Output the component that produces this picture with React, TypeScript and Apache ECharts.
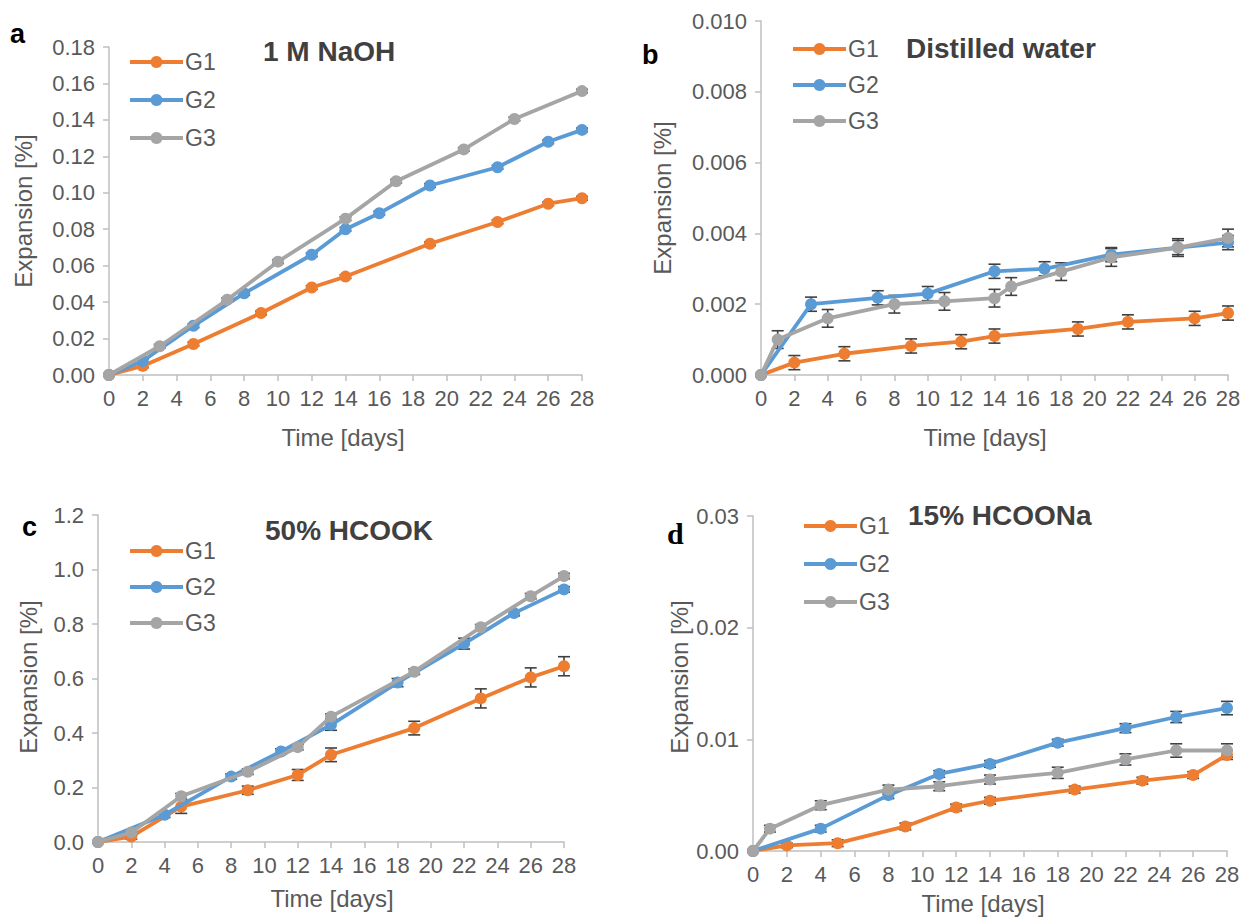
import React, { useEffect, useRef } from "react";
import * as echarts from "echarts";

// ---------- Data ----------
const seriesNames = ["G1", "G2", "G3"];
const seriesColors = ["#ED7D31", "#5B9BD5", "#A5A5A5"];

// Panel a: 1 M NaOH
const aG1x = [0, 2, 5, 9, 12, 14, 19, 23, 26, 28];
const aG1y = [0, 0.005, 0.017, 0.034, 0.048, 0.054, 0.072, 0.084, 0.094, 0.097];
const aG1e = [0, 0.001, 0.001, 0.001, 0.001, 0.001, 0.001, 0.001, 0.001, 0.001];
const aG2x = [0, 2, 5, 8, 12, 14, 16, 19, 23, 26, 28];
const aG2y = [0, 0.0077, 0.027, 0.0448, 0.066, 0.08, 0.0888, 0.104, 0.114, 0.128, 0.1345];
const aG2e = [0, 0.001, 0.001, 0.001, 0.001, 0.001, 0.001, 0.001, 0.001, 0.001, 0.001];
const aG3x = [0, 3, 7, 10, 14, 17, 21, 24, 28];
const aG3y = [0, 0.0158, 0.0413, 0.0622, 0.0858, 0.1063, 0.1238, 0.1405, 0.1558];
const aG3e = [0, 0.001, 0.001, 0.001, 0.001, 0.001, 0.001, 0.001, 0.001];

// Panel b: Distilled water
const bG1x = [0, 2, 5, 9, 12, 14, 19, 22, 26, 28];
const bG1y = [0, 0.00035, 0.0006, 0.00082, 0.00094, 0.0011, 0.0013, 0.0015, 0.0016, 0.00175];
const bG1e = [0, 0.0002, 0.0002, 0.0002, 0.0002, 0.0002, 0.0002, 0.0002, 0.0002, 0.0002];
const bG2x = [0, 3, 7, 10, 14, 17, 21, 25, 28];
const bG2y = [0, 0.002, 0.00218, 0.0023, 0.00293, 0.003, 0.0034, 0.0036, 0.00374];
const bG2e = [0, 0.0002, 0.0002, 0.0002, 0.0002, 0.0002, 0.0002, 0.0002, 0.0002];
const bG3x = [0, 1, 4, 8, 11, 14, 15, 18, 21, 25, 28];
const bG3y = [0, 0.001, 0.0016, 0.002, 0.00208, 0.00217, 0.0025, 0.00292, 0.00332, 0.0036, 0.00387];
const bG3e = [0, 0.00025, 0.00025, 0.00025, 0.00025, 0.00025, 0.00025, 0.00025, 0.00025, 0.00025, 0.00025];

// Panel c: 50% HCOOK
const cG1x = [0, 2, 5, 9, 12, 14, 19, 23, 26, 28];
const cG1y = [0, 0.02, 0.13, 0.19, 0.246, 0.32, 0.418, 0.527, 0.604, 0.645];
const cG1e = [0, 0.01, 0.025, 0.015, 0.02, 0.025, 0.025, 0.035, 0.035, 0.035];
const cG2x = [0, 4, 8, 11, 14, 18, 22, 25, 28];
const cG2y = [0, 0.1, 0.24, 0.332, 0.43, 0.585, 0.728, 0.84, 0.927];
const cG2e = [0, 0.01, 0.01, 0.01, 0.02, 0.015, 0.02, 0.01, 0.01];
const cG3x = [0, 2, 5, 9, 12, 14, 19, 23, 26, 28];
const cG3y = [0, 0.035, 0.168, 0.258, 0.348, 0.46, 0.625, 0.788, 0.902, 0.976];
const cG3e = [0, 0.01, 0.01, 0.01, 0.01, 0.01, 0.01, 0.01, 0.01, 0.01];

// Panel d: 15% HCOONa
const dG1x = [0, 2, 5, 9, 12, 14, 19, 23, 26, 28];
const dG1y = [0, 0.0005, 0.0007, 0.0022, 0.0039, 0.0045, 0.0055, 0.0063, 0.0068, 0.0086];
const dG1e = [0, 0.0002, 0.0003, 0.0003, 0.0003, 0.0003, 0.0003, 0.0003, 0.0003, 0.0004];
const dG2x = [0, 4, 8, 11, 14, 18, 22, 25, 28];
const dG2y = [0, 0.002, 0.005, 0.0069, 0.0078, 0.0097, 0.011, 0.012, 0.0128];
const dG2e = [0, 0.0003, 0.0003, 0.0003, 0.0003, 0.0003, 0.0004, 0.0005, 0.0006];
const dG3x = [0, 1, 4, 8, 11, 14, 18, 22, 25, 28];
const dG3y = [0, 0.002, 0.0041, 0.0055, 0.0058, 0.0064, 0.007, 0.0082, 0.009, 0.009];
const dG3e = [0, 0.0003, 0.0004, 0.0004, 0.0004, 0.0004, 0.0005, 0.0005, 0.0006, 0.0006];

const panelTitles = ["1 M NaOH", "Distilled water", "50% HCOOK", "15% HCOONa"];
const panelLetters = ["a", "b", "c", "d"];
const yMaxes = [0.18, 0.01, 1.2, 0.03];
const yIntervals = [0.02, 0.002, 0.2, 0.01];
const yDecimals = [2, 3, 1, 2];
const xName = "Time [days]";
const yName = "Expansion [%]";

const panelData = [
  [[aG1x, aG1y, aG1e], [aG2x, aG2y, aG2e], [aG3x, aG3y, aG3e]],
  [[bG1x, bG1y, bG1e], [bG2x, bG2y, bG2e], [bG3x, bG3y, bG3e]],
  [[cG1x, cG1y, cG1e], [cG2x, cG2y, cG2e], [cG3x, cG3y, cG3e]],
  [[dG1x, dG1y, dG1e], [dG2x, dG2y, dG2e], [dG3x, dG3y, dG3e]],
];

// ---------- Layout ----------
const grids = [
  { left: 109, top: 47, width: 473, height: 328 },
  { left: 761, top: 21, width: 467, height: 354 },
  { left: 98, top: 515, width: 466, height: 327 },
  { left: 753, top: 516, width: 474, height: 335 },
];
const legendPos = [
  { left: 128, top: 50, gap: 14 },
  { left: 791, top: 37, gap: 12 },
  { left: 128, top: 539, gap: 12 },
  { left: 802, top: 514, gap: 14 },
];
const titlePos = [
  { x: 263, y: 51 },
  { x: 906, y: 48 },
  { x: 265, y: 530 },
  { x: 908, y: 515 },
];
const letterPos = [
  { x: 10, y: 34 },
  { x: 642, y: 55 },
  { x: 22, y: 527 },
  { x: 667, y: 533 },
];
const yNamePos = [
  { x: 23, y: 211 },
  { x: 662, y: 198 },
  { x: 28, y: 677 },
  { x: 679, y: 677 },
];
const xNamePos = [
  { x: 343, y: 437 },
  { x: 985, y: 437 },
  { x: 332, y: 898 },
  { x: 983, y: 903 },
];

const FONT = "'Liberation Sans', Arial, sans-serif";
const LABEL_COLOR = "#595959";
const AXIS_COLOR = "#BFBFBF";

export default function App() {
  const ref = useRef<HTMLDivElement>(null);

  useEffect(() => {
    document.body.style.margin = "0";
    if (!ref.current) return;
    const chart = echarts.init(ref.current, undefined, { renderer: "svg" });

    const xAxes: any[] = [];
    const yAxes: any[] = [];
    const series: any[] = [];
    const legends: any[] = [];
    const graphics: any[] = [];

    grids.forEach((g, p) => {
      xAxes.push({
        type: "value",
        gridIndex: p,
        min: 0,
        max: 28,
        interval: 2,
        axisLine: { show: true, lineStyle: { color: AXIS_COLOR, width: 1.5 } },
        axisTick: { show: true, length: 6, lineStyle: { color: AXIS_COLOR, width: 1.5 } },
        axisLabel: { color: LABEL_COLOR, fontSize: 22, fontFamily: FONT, margin: 12 },
        splitLine: { show: false },
      });
      yAxes.push({
        type: "value",
        gridIndex: p,
        min: 0,
        max: yMaxes[p],
        interval: yIntervals[p],
        axisLine: { show: true, lineStyle: { color: AXIS_COLOR, width: 1.5 } },
        axisTick: { show: true, length: 6, lineStyle: { color: AXIS_COLOR, width: 1.5 } },
        axisLabel: {
          color: LABEL_COLOR,
          fontSize: 22,
          fontFamily: FONT,
          margin: 14,
          formatter: (v: number) => v.toFixed(yDecimals[p]),
        },
        splitLine: { show: false },
      });

      panelData[p].forEach(([xs, ys, es], s) => {
        series.push({
          type: "custom",
          name: seriesNames[s] + "_err",
          xAxisIndex: p,
          yAxisIndex: p,
          z: 1,
          silent: true,
          renderItem: (params: any, api: any) => {
            const x = api.value(0);
            const y = api.value(1);
            const e = api.value(2);
            if (!e) return null;
            const t = api.coord([x, y + e]);
            const b = api.coord([x, y - e]);
            const st = { stroke: "#404040", lineWidth: 1.6 };
            return {
              type: "group",
              children: [
                { type: "line", shape: { x1: t[0], y1: t[1], x2: b[0], y2: b[1] }, style: st },
                { type: "line", shape: { x1: t[0] - 6, y1: t[1], x2: t[0] + 6, y2: t[1] }, style: st },
                { type: "line", shape: { x1: b[0] - 6, y1: b[1], x2: b[0] + 6, y2: b[1] }, style: st },
              ],
            };
          },
          data: xs.map((x: number, i: number) => [x, ys[i], es[i]]),
        });
      });
      panelData[p].forEach(([xs, ys], s) => {
        series.push({
          type: "line",
          name: seriesNames[s],
          xAxisIndex: p,
          yAxisIndex: p,
          z: 2 + s,
          symbol: "circle",
          symbolSize: 12,
          showSymbol: true,
          color: seriesColors[s],
          lineStyle: { width: 3.8, color: seriesColors[s] },
          itemStyle: { color: seriesColors[s] },
          data: xs.map((x: number, i: number) => [x, ys[i]]),
        });
      });

      const lp = legendPos[p];
      legends.push({
        orient: "vertical",
        left: lp.left,
        top: lp.top,
        itemGap: lp.gap,
        itemWidth: 53,
        itemHeight: 15,
        padding: 0,
        data: seriesNames,
        selectedMode: false,
        lineStyle: { width: 4 },
        textStyle: { color: LABEL_COLOR, fontSize: 23, fontFamily: FONT, lineHeight: 24, padding: [0, 0, 0, -3] },
      });

      graphics.push({
        type: "text",
        x: titlePos[p].x,
        y: titlePos[p].y,
        style: {
          text: panelTitles[p],
          fill: "#404040",
          font: `bold 28px ${FONT}`,
          textVerticalAlign: "middle",
          textAlign: "left",
        },
      });
      graphics.push({
        type: "text",
        x: letterPos[p].x,
        y: letterPos[p].y,
        style: {
          text: panelLetters[p],
          fill: "#000000",
          font: p === 3 ? "bold 30px 'Liberation Serif', serif" : `bold 27px ${FONT}`,
          textVerticalAlign: "middle",
          textAlign: "left",
        },
      });
      graphics.push({
        type: "text",
        x: yNamePos[p].x,
        y: yNamePos[p].y,
        rotation: Math.PI / 2,
        style: {
          text: yName,
          fill: LABEL_COLOR,
          font: `24px ${FONT}`,
          textVerticalAlign: "middle",
          textAlign: "center",
        },
      });
      graphics.push({
        type: "text",
        x: xNamePos[p].x,
        y: xNamePos[p].y,
        style: {
          text: xName,
          fill: LABEL_COLOR,
          font: `24px ${FONT}`,
          textVerticalAlign: "middle",
          textAlign: "center",
        },
      });
    });

    chart.setOption({
      animation: false,
      backgroundColor: "#ffffff",
      grid: grids.map((g) => ({ ...g, containLabel: false })),
      xAxis: xAxes,
      yAxis: yAxes,
      legend: legends,
      series,
      graphic: graphics,
    });

    return () => chart.dispose();
  }, []);

  return <div ref={ref} style={{ width: 1255, height: 919 }} />;
}
